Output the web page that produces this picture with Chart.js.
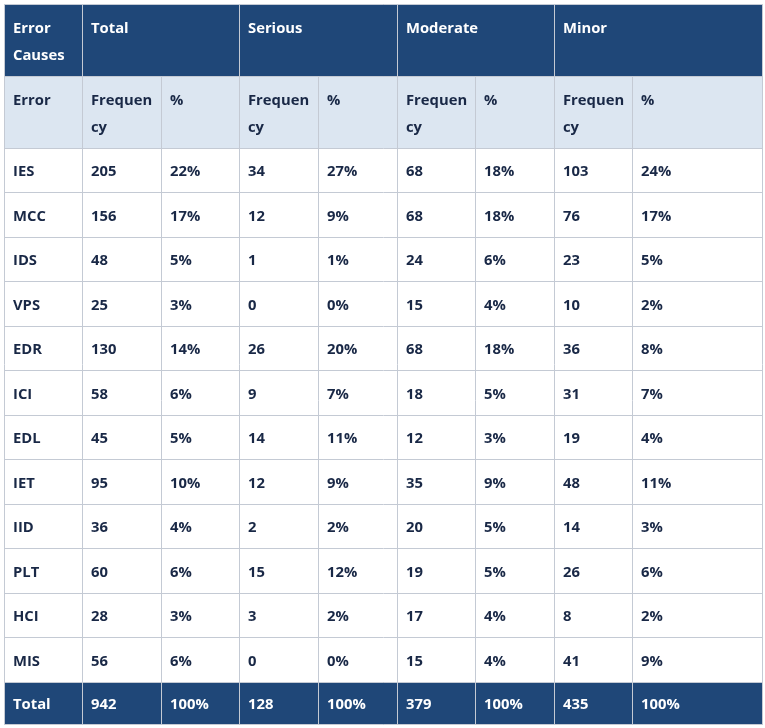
<!DOCTYPE html>
<html>
<head>
<meta charset="utf-8">
<script src="https://cdn.jsdelivr.net/npm/chart.js@4.4.0/dist/chart.umd.min.js"></script>
<style>
  html, body { margin: 0; padding: 0; background: #ffffff; }
  #wrap { width: 765px; height: 728px; }
</style>
</head>
<body>
<div id="wrap"><canvas id="ErrorTable"></canvas></div>
<script>
// table content
const groups = ['Total', 'Serious', 'Moderate', 'Minor'];
const causes = ['IES', 'MCC', 'IDS', 'VPS', 'EDR', 'ICI', 'EDL', 'IET', 'IID', 'PLT', 'HCI', 'MIS'];
const totalFreq = [205, 156, 48, 25, 130, 58, 45, 95, 36, 60, 28, 56];
const totalPct = [22, 17, 5, 3, 14, 6, 5, 10, 4, 6, 3, 6];
const seriousFreq = [34, 12, 1, 0, 26, 9, 14, 12, 2, 15, 3, 0];
const seriousPct = [27, 9, 1, 0, 20, 7, 11, 9, 2, 12, 2, 0];
const moderateFreq = [68, 68, 24, 15, 68, 18, 12, 35, 20, 19, 17, 15];
const moderatePct = [18, 18, 6, 4, 18, 5, 3, 9, 5, 5, 4, 4];
const minorFreq = [103, 76, 23, 10, 36, 31, 19, 48, 14, 26, 8, 41];
const minorPct = [24, 17, 5, 2, 8, 7, 4, 11, 3, 6, 2, 9];
const sumFreq = [942, 128, 379, 435];
const sumPct = [100, 100, 100, 100];

// layout (scale units = px of the page)
const colEdges = [4, 82, 161, 239, 318, 397, 475, 554, 632, 762];
const headTop = 4, head1Bottom = 76, head2Bottom = 148, bodyBottom = 681.5, tableBottom = 724;
const NAVY = '#1f4778', LIGHT = '#dce6f1', GRID = '#c4cad4', INK = '#192846';
const FONT = 'bold 14.8px "Open Sans", "Noto Sans", sans-serif';

const bodyCols = [totalFreq, totalPct, seriousFreq, seriousPct, moderateFreq, moderatePct, minorFreq, minorPct];

const tablePlugin = {
    id: 'tablePlugin',
    afterDraw(chart) {
        const ctx = chart.ctx;
        const xs = chart.scales.x, ys = chart.scales.y;
        const px = v => Math.round(xs.getPixelForValue(v)) + 0.5;
        const py = v => Math.round(ys.getPixelForValue(v)) + 0.5;
        const rowH = (bodyBottom - head2Bottom) / causes.length;
        const rowEdges = [headTop, head1Bottom, head2Bottom];
        for (let i = 1; i <= causes.length; i++) rowEdges.push(head2Bottom + rowH * i);
        rowEdges.push(tableBottom);
        const left = px(colEdges[0]), right = px(colEdges[colEdges.length - 1]);

        ctx.save();
        // backgrounds
        ctx.fillStyle = NAVY;
        ctx.fillRect(left, py(headTop), right - left, py(head1Bottom) - py(headTop));
        ctx.fillStyle = LIGHT;
        ctx.fillRect(left, py(head1Bottom), right - left, py(head2Bottom) - py(head1Bottom));
        ctx.fillStyle = NAVY;
        ctx.fillRect(left, py(bodyBottom), right - left, py(tableBottom) - py(bodyBottom));

        // grid
        ctx.strokeStyle = GRID;
        ctx.lineWidth = 1;
        ctx.beginPath();
        rowEdges.forEach(r => { ctx.moveTo(left, py(r)); ctx.lineTo(right, py(r)); });
        colEdges.forEach((c, i) => {
            const x = px(c);
            const groupEdge = (i === 0 || i % 2 === 1 || i === colEdges.length - 1);
            ctx.moveTo(x, py(groupEdge ? headTop : head1Bottom));
            ctx.lineTo(x, py(tableBottom));
        });
        ctx.stroke();

        // text
        ctx.font = FONT;
        ctx.textAlign = 'left';
        ctx.textBaseline = 'alphabetic';
        const tx = i => px(colEdges[i]) + 8.5;
        const lineGap = 27;

        // header row 1
        ctx.fillStyle = '#ffffff';
        ctx.fillText('Error', tx(0), py(headTop) + 28);
        ctx.fillText('Causes', tx(0), py(headTop) + 28 + lineGap);
        groups.forEach((g, i) => ctx.fillText(g, tx(1 + i * 2), py(headTop) + 28));

        // header row 2
        ctx.fillStyle = INK;
        ctx.fillText('Error', tx(0), py(head1Bottom) + 28);
        for (let g = 0; g < groups.length; g++) {
            ctx.fillText('Frequen', tx(1 + g * 2), py(head1Bottom) + 28);
            ctx.fillText('cy', tx(1 + g * 2), py(head1Bottom) + 28 + lineGap);
            ctx.fillText('%', tx(2 + g * 2), py(head1Bottom) + 28);
        }

        // body rows
        causes.forEach((c, r) => {
            const mid = (py(rowEdges[2 + r]) + py(rowEdges[3 + r])) / 2 + 5.5;
            ctx.fillText(c, tx(0), mid);
            bodyCols.forEach((col, k) => {
                const txt = k % 2 === 1 ? col[r] + '%' : String(col[r]);
                ctx.fillText(txt, tx(1 + k), mid);
            });
        });

        // total row
        ctx.fillStyle = '#ffffff';
        const tmid = (py(bodyBottom) + py(tableBottom)) / 2 + 5.5;
        ctx.fillText('Total', tx(0), tmid);
        for (let g = 0; g < groups.length; g++) {
            ctx.fillText(String(sumFreq[g]), tx(1 + g * 2), tmid);
            ctx.fillText(sumPct[g] + '%', tx(2 + g * 2), tmid);
        }
        ctx.restore();
    }
};

let errorTable = new Chart(document.getElementById('ErrorTable').getContext('2d'), {
    type: 'scatter',
    data: { datasets: [{ data: [], pointRadius: 0 }] },
    options: {
        responsive: true,
        maintainAspectRatio: false,
        animation: false,
        layout: { padding: 0 },
        scales: {
            x: { type: 'linear', min: 0, max: 765, display: false },
            y: { type: 'linear', min: 0, max: 728, reverse: true, display: false }
        },
        plugins: {
            legend: { display: false },
            tooltip: { enabled: false }
        }
    },
    plugins: [tablePlugin]
});
</script>
</body>
</html>
